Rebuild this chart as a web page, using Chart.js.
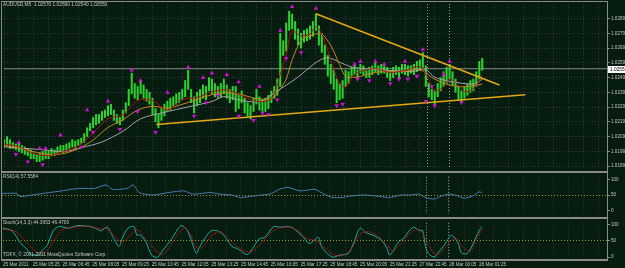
<!DOCTYPE html>
<html><head><meta charset="utf-8">
<script src="https://cdn.jsdelivr.net/npm/chart.js@4/dist/chart.umd.min.js"></script>
<style>
html,body{margin:0;padding:0;background:#051c0f;}
#wrap{position:relative;width:625px;height:268px;overflow:hidden;background:#051c0f;}
canvas{position:absolute;left:0;}
.ln{position:absolute;background:#8a8a8a;}
</style></head><body>
<div id="wrap">
<canvas id="cMain" width="625" height="171" style="top:0"></canvas>
<canvas id="cRsi" width="625" height="44" style="top:173px"></canvas>
<canvas id="cSto" width="625" height="49" style="top:219px"></canvas>
<div class="ln" style="left:1px;top:1px;width:607px;height:1px"></div>
<div class="ln" style="left:1px;top:1px;width:1px;height:260px"></div>
<div class="ln" style="left:607px;top:1px;width:1px;height:260px"></div>
<div class="ln" style="left:1px;top:171px;width:607px;height:2px"></div>
<div class="ln" style="left:1px;top:217px;width:607px;height:2px"></div>
<div class="ln" style="left:1px;top:259px;width:607px;height:2px"></div>
</div>
<script>
// ---------- data ----------
const barHigh = [
1.0207,1.0209,1.0207,1.0205,1.0204,1.0205,1.0203,1.0202,1.0201,1.0200,
1.0198,1.0197,1.0198,1.0199,1.0200,1.0199,1.0201,1.0200,1.0202,1.0203,
1.0203,1.0204,1.0205,1.0207,1.0206,1.0207,1.0208,1.0211,1.0215,1.0218,
1.0222,1.0224,1.0224,1.0226,1.0227,1.0230,1.0231,1.0227,1.0224,1.0222,
1.0227,1.0232,1.0241,1.0252,1.0245,1.0243,1.0247,1.0244,1.0241,1.0239,
1.0235,1.0228,1.0224,1.0228,1.0231,1.0233,1.0235,1.0236,1.0238,1.0239,
1.0241,1.0247,1.0254,1.0241,1.0236,1.0239,1.0241,1.0244,1.0243,1.0249,
1.0248,1.0245,1.0243,1.0245,1.0248,1.0244,1.0241,1.0243,1.0243,1.0238,
1.0240,1.0235,1.0232,1.0230,1.0235,1.0241,1.0236,1.0234,1.0235,1.0237,
1.0240,1.0243,1.0248,1.0279,1.0274,1.0286,1.0294,1.0292,1.0287,1.0282,
1.0279,1.0281,1.0282,1.0284,1.0287,1.0292,1.0284,1.0279,1.0271,1.0264,
1.0258,1.0254,1.0248,1.0245,1.0247,1.0254,1.0253,1.0256,1.0258,1.0254,
1.0258,1.0257,1.0254,1.0256,1.0257,1.0259,1.0257,1.0258,1.0257,1.0256,
1.0253,1.0256,1.0257,1.0256,1.0258,1.0258,1.0257,1.0257,1.0258,1.0260,
1.0261,1.0266,1.0257,1.0245,1.0241,1.0240,1.0245,1.0249,1.0253,1.0256,
1.0258,1.0253,1.0248,1.0243,1.0240,1.0243,1.0245,1.0247,1.0248,1.0253,
1.0260,1.0262];
const barLow = [
1.0202,1.0203,1.0201,1.0201,1.0200,1.0199,1.0198,1.0197,1.0196,1.0194,
1.0194,1.0192,1.0192,1.0193,1.0194,1.0194,1.0196,1.0196,1.0198,1.0199,
1.0198,1.0200,1.0201,1.0202,1.0201,1.0203,1.0204,1.0205,1.0209,1.0213,
1.0215,1.0217,1.0218,1.0220,1.0222,1.0223,1.0224,1.0220,1.0218,1.0217,
1.0220,1.0225,1.0230,1.0238,1.0235,1.0234,1.0238,1.0235,1.0233,1.0231,
1.0224,1.0219,1.0215,1.0220,1.0223,1.0226,1.0227,1.0230,1.0231,1.0232,
1.0234,1.0236,1.0241,1.0232,1.0225,1.0230,1.0232,1.0235,1.0234,1.0240,
1.0238,1.0236,1.0235,1.0236,1.0238,1.0235,1.0232,1.0234,1.0226,1.0228,
1.0232,1.0225,1.0223,1.0221,1.0226,1.0231,1.0227,1.0226,1.0226,1.0228,
1.0232,1.0235,1.0237,1.0243,1.0264,1.0267,1.0281,1.0282,1.0275,1.0271,
1.0269,1.0273,1.0274,1.0275,1.0277,1.0281,1.0271,1.0266,1.0258,1.0250,
1.0245,1.0241,1.0232,1.0234,1.0235,1.0243,1.0245,1.0250,1.0251,1.0249,
1.0252,1.0251,1.0249,1.0249,1.0251,1.0253,1.0251,1.0252,1.0252,1.0249,
1.0247,1.0249,1.0251,1.0249,1.0252,1.0251,1.0250,1.0252,1.0251,1.0253,
1.0254,1.0256,1.0243,1.0236,1.0234,1.0231,1.0236,1.0240,1.0243,1.0245,
1.0248,1.0244,1.0239,1.0234,1.0232,1.0235,1.0237,1.0239,1.0240,1.0243,
1.0248,1.0254];

const fastMaIdx = [0,5,10,15,20,25,30,35,40,45,50,55,60,65,70,75,80,85,90,93,95,97,100,103,105,107,110,113,115,118,120,125,130,135,140,143,145,148,150,153,155,158,161];
const fastMaVal = [1.02041,1.02021,1.01975,1.01962,1.01988,1.02028,1.02113,1.02211,1.02237,1.02335,1.02335,1.02270,1.02342,1.02355,1.02394,1.02407,1.02368,1.02328,1.02348,1.02512,1.02642,1.02806,1.02773,1.02786,1.02832,1.02786,1.02610,1.02446,1.02427,1.02512,1.02531,1.02551,1.02525,1.02538,1.02564,1.02479,1.02400,1.02427,1.02479,1.02440,1.02394,1.02413,1.02505];

const midMaIdx = [0,5,10,15,20,25,30,35,40,45,50,55,60,65,70,75,80,85,90,93,95,97,100,103,105,107,110,113,115,118,120,125,130,135,140,145,150,155,161];
const midMaVal = [1.02028,1.02015,1.01988,1.01969,1.01975,1.02008,1.02067,1.02152,1.02204,1.02270,1.02296,1.02283,1.02309,1.02342,1.02374,1.02387,1.02374,1.02348,1.02348,1.02413,1.02479,1.02610,1.02740,1.02773,1.02786,1.02786,1.02708,1.02577,1.02498,1.02492,1.02498,1.02525,1.02531,1.02531,1.02544,1.02479,1.02440,1.02427,1.02446];

const slowMaIdx = [0,13,20,26,33,40,46,53,63,70,74,80,86,92,98,108,115,118,137,142,145,150,158,161];
const slowMaVal = [1.02021,1.02001,1.01988,1.02015,1.02054,1.02126,1.02211,1.02250,1.02296,1.02328,1.02361,1.02335,1.02328,1.02400,1.02479,1.02623,1.02577,1.02557,1.02531,1.02544,1.02492,1.02466,1.02446,1.02479];

const upFractalIdx = [5,12,14,19,28,35,43,46,55,62,67,70,75,79,86,93,97,105,118,120,125,128,135,141,148,150];
const upFractalVal = [1.0205,1.0201,1.0201,1.0210,1.0227,1.0233,1.0254,1.0247,1.0239,1.0256,1.0249,1.0252,1.0251,1.0246,1.0243,1.0281,1.0297,1.0296,1.0258,1.0260,1.0260,1.0258,1.0260,1.0268,1.0251,1.0260];
const downFractalIdx = [4,8,13,26,30,39,45,51,64,68,72,79,84,87,89,92,95,100,112,114,119,123,130,133,136,139,142,144,145,154];
const downFractalVal = [1.0197,1.0192,1.0190,1.0202,1.0212,1.0214,1.0226,1.0212,1.0223,1.0232,1.0237,1.0223,1.0220,1.0225,1.0224,1.0234,1.0262,1.0266,1.0230,1.0231,1.0248,1.0247,1.0245,1.0248,1.0248,1.0250,1.0233,1.0243,1.0230,1.0232];

const trendUpperIdx = [105.0, 166.8];
const trendUpperVal = [1.02923, 1.02440];
const trendLowerIdx = [51.3, 175.5];
const trendLowerVal = [1.02172, 1.02374];

const lastPrice = 1.0255;
const lastPriceLabel = '1.02550';
const daySeparators = [142.3, 149.7];

const priceTicks = [1.0289,1.0279,1.0269,1.0259,1.0249,1.0239,1.0229,1.0219,1.0209,1.0199,1.0189];
const priceTickLabels = ['1.02890','1.02790','1.02690','1.02590','1.02490','1.02390','1.02290','1.02190','1.02090','1.01990','1.01890'];
const oscTicks = [100,50,0];
const oscTickLabels = ['100','50','0'];
const timeLabels = ['25 Mar 2011','25 Mar 05:25','25 Mar 06:45','25 Mar 08:05','25 Mar 09:25','25 Mar 10:45','25 Mar 12:05','25 Mar 13:25','25 Mar 14:45','25 Mar 16:05','25 Mar 17:25','25 Mar 18:45','25 Mar 20:05','25 Mar 21:25','27 Mar 22:45','28 Mar 00:05','28 Mar 01:25'];

const rsiIdx = [0,5,6,10,16,20,23,27,31,35,37,42,44,46,50,53,56,61,64,67,70,73,77,80,83,87,90,93,96,100,105,108,111,114,117,122,127,130,134,137,140,142,145,147,150,153,155,158,160,161];
const rsiVal = [55,55,45,50,58,63,68,71,71,82,68,71,82,58,50,53,58,63,53,55,58,53,50,42,45,50,53,68,74,63,68,53,42,42,47,50,45,42,50,50,53,42,37,45,53,47,40,47,60,58];

const stochMainIdx = [0,3,6,8,9,12,13,15,17,19,22,25,29,31,33,35,37,39,40,42,44,45,46,48,50,52,54,56,59,60,62,64,65,66,68,70,72,74,77,79,82,84,86,88,91,93,96,98,101,103,106,107,109,111,113,116,118,120,122,124,127,129,130,133,135,136,138,140,141,142,143,145,146,148,150,151,153,154,156,158,160,161];
const stochMainVal = [89,81,42,25,11,6,19,39,83,94,89,97,94,89,81,92,61,33,56,89,94,67,69,47,6,0,25,47,89,97,81,33,11,30,60,81,81,69,33,25,8,28,56,61,94,92,94,86,61,42,61,33,11,0,6,11,47,89,75,69,53,28,6,47,61,75,92,81,83,33,11,0,11,33,61,67,42,14,11,42,81,94];
const stochSigIdx = [0,4,7,10,13,15,17,20,24,29,32,35,38,40,43,45,47,50,53,55,58,61,63,65,67,70,73,76,79,83,86,89,92,96,99,102,105,108,111,114,117,120,123,126,129,131,134,137,140,143,145,147,150,152,154,157,159,161];
const stochSigVal = [85,80,55,25,10,22,50,85,92,95,88,86,60,45,70,85,66,35,8,20,60,90,70,30,30,65,78,55,30,15,35,65,88,92,82,58,50,30,8,5,25,70,78,64,38,18,45,75,85,40,10,12,45,60,35,18,55,85];

// ---------- style ----------
const TXT = '#c6c6c6', GRID = 'rgba(115,85,130,0.45)';
const X_MAX = 203;
Chart.defaults.font.family = '"Liberation Sans", Arial, sans-serif';
Chart.defaults.animation = false;

const pts = (ix, vals) => ix.map((x, i) => ({x, y: vals[i]}));

function xScale(showLabels) {
  return {
    type: 'linear', min: 0, max: X_MAX, offset: false,
    afterBuildTicks(s) { const t = []; for (let v = 0; v <= X_MAX; v += 5) t.push({value: v}); s.ticks = t; },
    afterFit(s) { s.height = showLabels ? 9 : 0; },
    grid: {color: GRID, lineWidth: 1, offset: false, drawTicks: false},
    border: {display: false, dash: [1, 2]},
    ticks: showLabels ? {
      display: true, autoSkip: false, maxRotation: 0, minRotation: 0, align: 'start', padding: 3,
      color: TXT, font: {size: 4.6},
      callback: (v) => (v % 10 === 0 && timeLabels[v / 10]) ? timeLabels[v / 10] : ''
    } : {display: false}
  };
}
function yScale(min, max, vals, labels, gridColor) {
  return {
    position: 'right', min, max,
    afterFit(s) { s.width = 18; },
    afterBuildTicks(s) { s.ticks = vals.map(v => ({value: v})); },
    ticks: {color: TXT, font: {size: 4.6}, padding: 1, callback: (v, i) => labels[i]},
    grid: {color: gridColor, drawTicks: true, tickLength: 3, tickColor: '#8a8a8a'},
    border: {display: false, dash: [1, 2]}
  };
}

const sepPlugin = {
  id: 'seps',
  beforeDatasetsDraw(chart) {
    const {ctx, chartArea: a} = chart, xs = chart.scales.x;
    ctx.save(); ctx.strokeStyle = 'rgba(190,190,190,0.8)'; ctx.lineWidth = 1; ctx.setLineDash([1, 2]);
    daySeparators.forEach(v => { const x = Math.round(xs.getPixelForValue(v)) + 0.5;
      ctx.beginPath(); ctx.moveTo(x, a.top); ctx.lineTo(x, a.bottom); ctx.stroke(); });
    ctx.restore();
  }
};
const textPlugin = {
  id: 'texts',
  afterDraw(chart, args, opts) {
    const ctx = chart.ctx; ctx.save();
    ctx.font = '4.8px "Liberation Sans", Arial, sans-serif'; ctx.fillStyle = TXT; ctx.textBaseline = 'middle';
    (opts.items || []).forEach(it => ctx.fillText(it.text, it.x, it.y));
    if (opts.priceBox) {
      const y = chart.scales.y.getPixelForValue(lastPrice);
      ctx.fillStyle = '#ffffff'; ctx.fillRect(608, Math.round(y) - 3, 17, 7);
      ctx.fillStyle = '#000000'; ctx.fillText(lastPriceLabel, 610, Math.round(y) + 0.5);
    }
    ctx.restore();
  }
};

// ---------- main price chart ----------
new Chart(document.getElementById('cMain'), {
  type: 'line',
  data: {datasets: [
    {type: 'bar', data: barHigh.map((h, i) => ({x: i, y: [barLow[i], h]})), backgroundColor: '#30d030',
     borderWidth: 0, barThickness: 1.4, order: 5},
    {data: [{x: 0, y: lastPrice}, {x: X_MAX, y: lastPrice}], borderColor: '#8c8c8c', borderWidth: 1, pointRadius: 0, order: 6},
    {data: pts(slowMaIdx, slowMaVal), borderColor: '#a4a4a4', borderWidth: 1, pointRadius: 0, tension: 0.3, order: 4},
    {data: pts(midMaIdx, midMaVal), borderColor: '#c8861e', borderWidth: 1, pointRadius: 0, tension: 0.3, order: 3},
    {data: pts(fastMaIdx, fastMaVal), borderColor: '#b01010', borderWidth: 1, pointRadius: 0, tension: 0.3, order: 2},
    {data: pts(trendUpperIdx, trendUpperVal), borderColor: '#e6a814', borderWidth: 1.5, pointRadius: 0, order: 1},
    {data: pts(trendLowerIdx, trendLowerVal), borderColor: '#e6a814', borderWidth: 1.5, pointRadius: 0, order: 1},
    {data: pts(upFractalIdx, upFractalVal), showLine: false, pointStyle: 'triangle', pointRadius: 2.6,
     backgroundColor: '#d010d0', borderColor: '#d010d0', borderWidth: 0, order: 0},
    {data: pts(downFractalIdx, downFractalVal), showLine: false, pointStyle: 'triangle', rotation: 180, pointRadius: 2.6,
     backgroundColor: '#d010d0', borderColor: '#d010d0', borderWidth: 0, order: 0}
  ]},
  options: {
    responsive: false, animation: false,
    layout: {padding: {left: 2, top: 2, right: 0, bottom: 0}},
    plugins: {legend: {display: false}, tooltip: {enabled: false},
      texts: {items: [{text: 'AUDUSD,M5  1.02570 1.02590 1.02540 1.02550', x: 3, y: 5}], priceBox: true}},
    scales: {x: xScale(false), y: yScale(1.018841, 1.029887, priceTicks, priceTickLabels, GRID)}
  },
  plugins: [sepPlugin, textPlugin]
});

const levelGrid = (c) => c.tick && c.tick.value === 50 ? '#9c9c22' : 'rgba(0,0,0,0)';

// ---------- RSI ----------
new Chart(document.getElementById('cRsi'), {
  type: 'line',
  data: {datasets: [
    {data: pts(rsiIdx, rsiVal), borderColor: '#4a7cb0', borderWidth: 1, pointRadius: 0, tension: 0.2}
  ]},
  options: {
    responsive: false, animation: false,
    layout: {padding: {left: 2, top: 0, right: 0, bottom: 0}},
    plugins: {legend: {display: false}, tooltip: {enabled: false},
      texts: {items: [{text: 'RSI(14) 57.5584', x: 3, y: 4}]}},
    scales: {x: xScale(false), y: yScale(-7.89, 107.89, oscTicks, oscTickLabels, levelGrid)}
  },
  plugins: [sepPlugin, textPlugin]
});

// ---------- Stochastic ----------
new Chart(document.getElementById('cSto'), {
  type: 'line',
  data: {datasets: [
    {data: pts(stochSigIdx, stochSigVal), borderColor: '#c01818', borderWidth: 1, borderDash: [2, 1], pointRadius: 0, tension: 0.3},
    {data: pts(stochMainIdx, stochMainVal), borderColor: '#1fa8a0', borderWidth: 1, pointRadius: 0, tension: 0.3}
  ]},
  options: {
    responsive: false, animation: false,
    layout: {padding: {left: 2, top: 0, right: 0, bottom: 0}},
    plugins: {legend: {display: false}, tooltip: {enabled: false},
      texts: {items: [{text: 'Stoch(14,3,3) 44.3953 46.4700', x: 3, y: 4},
                      {text: 'TOFX, \u00A9 2001-2011 MetaQuotes Software Corp.', x: 3, y: 36}]}},
    scales: {x: xScale(true), y: yScale(-5.56, 105.56, oscTicks, oscTickLabels, levelGrid)}
  },
  plugins: [sepPlugin, textPlugin]
});
</script>
</body></html>
